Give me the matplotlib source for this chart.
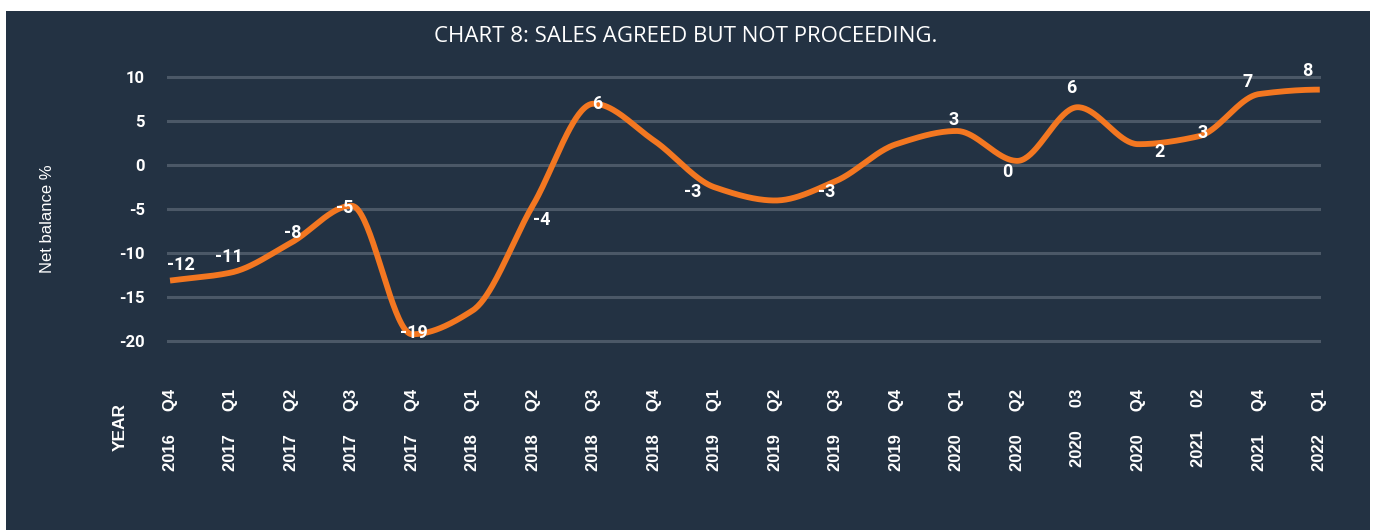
import numpy as np
import matplotlib
matplotlib.use("Agg")
import matplotlib.pyplot as plt
from matplotlib.patches import Rectangle

# ---------------- data ----------------
years = ["2016", "2017", "2017", "2017", "2017", "2018", "2018", "2018", "2018",
         "2019", "2019", "2019", "2019", "2020", "2020", "2020", "2020",
         "2021", "2021", "2022"]
quarters = ["Q4", "Q1", "Q2", "Q3", "Q4", "Q1", "Q2", "Q3", "Q4",
            "Q1", "Q2", "Q3", "Q4", "Q1", "Q2", "03", "Q4",
            "02", "Q4", "Q1"]
net_balance = [-13.1, -12.2, -8.8, -4.6, -19.2, -16.5, -4.5, 7.0, 2.8,
               -2.5, -4.0, -1.8, 2.4, 3.9, 0.5, 6.6, 2.4,
               3.3, 8.1, 8.6]
point_labels = ["-12", "-11", "-8", "-5", "-19", None, "-4", "6", None,
                "-3", None, "-3", None, "3", "0", "6", "2",
                "3", "7", "8"]
yticks = [10, 5, 0, -5, -10, -15, -20]

# ---------------- style ----------------
BG = "#233243"
GRID = "#4B5867"
ORANGE = "#F37721"
WHITE = "#FFFFFF"
W, H = 1373, 530
DPI = 100
px = 72.0 / DPI  # points per pixel

# label offsets (pixels: dx right, dy down)
label_offsets = [(11, -16), (-2, -16), (2, -10), (-7, 2), (2, -1), None, (9, 15),
                 (4, 0), None, (-22, 5), None, (-9, 11), None, (-3, -11),
                 (-10, 11), (-6, -19), (21, 8), (4, -3), (-12, -12), (-12, -19)]


def pchip(x, y, xs):
    x = np.asarray(x, float)
    y = np.asarray(y, float)
    h = np.diff(x)
    d = np.diff(y) / h
    n = len(x)
    m = np.zeros(n)
    for k in range(1, n - 1):
        if d[k - 1] * d[k] <= 0:
            m[k] = 0.0
        else:
            w1 = 2 * h[k] + h[k - 1]
            w2 = h[k] + 2 * h[k - 1]
            m[k] = (w1 + w2) / (w1 / d[k - 1] + w2 / d[k])
    m[0] = d[0]
    m[-1] = 0.0
    ys = np.empty_like(xs)
    for j, xv in enumerate(xs):
        k = min(max(np.searchsorted(x, xv) - 1, 0), n - 2)
        t = (xv - x[k]) / h[k]
        h00 = 2 * t**3 - 3 * t**2 + 1
        h10 = t**3 - 2 * t**2 + t
        h01 = -2 * t**3 + 3 * t**2
        h11 = t**3 - t**2
        ys[j] = h00 * y[k] + h10 * h[k] * m[k] + h01 * y[k + 1] + h11 * h[k] * m[k + 1]
    return ys


fig = plt.figure(figsize=(W / DPI, H / DPI), dpi=DPI, facecolor="white")
fig.patches.append(Rectangle((6 / W, 0), (1370 - 6) / W, 1 - 11 / H,
                             transform=fig.transFigure, facecolor=BG,
                             edgecolor="none", zorder=-5))

ymin, ymax = -21, 11
top_px, bot_px = 165.3 - 8.8 * ymax, 165.3 - 8.8 * ymin
ax = fig.add_axes([167 / W, 1 - bot_px / H, (1321 - 167) / W, (bot_px - top_px) / H])
ax.set_zorder(2)
ax.set_facecolor("none")
n = len(net_balance)
xi = np.arange(n)
ax.set_xlim(-0.05, 19.02)
ax.set_ylim(ymin, ymax)

for yv in yticks:
    ax.axhline(yv, color=GRID, lw=2.2, zorder=1)

xs = np.linspace(0, n - 1, 800)
ax.plot(xs, pchip(xi, net_balance, xs), color=ORANGE, lw=4.2,
        solid_capstyle="butt", zorder=3)

for i, lab in enumerate(point_labels):
    if lab is None:
        continue
    dx, dy = label_offsets[i]
    ax.annotate(lab, (xi[i], net_balance[i]), xytext=(dx * px, -dy * px),
                textcoords="offset points", ha="center", va="center",
                color=WHITE, fontsize=13, fontweight="bold", family="Roboto",
                zorder=4)

for s in ax.spines.values():
    s.set_visible(False)
ax.set_yticks(yticks)
ax.set_yticklabels([str(v) for v in yticks], family="Roboto", fontweight="bold",
                   fontsize=12, color=WHITE)
ax.tick_params(axis="y", length=0, pad=22 * px)
ax.set_xticks(xi)
ax.set_xticklabels([f"{y}     {q}" for y, q in zip(years, quarters)],
                   rotation=90, family="Liberation Sans", fontweight="bold",
                   fontsize=12, color=WHITE)
ax.tick_params(axis="x", length=0, pad=(389 - bot_px) * px)

fig.text(686 / W, 1 - 37 / H, "CHART 8: SALES AGREED BUT NOT PROCEEDING.",
         ha="center", va="center", color=WHITE, fontsize=16, family="Open Sans",
         fontweight="medium")
fig.text(48 / W, 1 - 219 / H, "Net balance %", rotation=90, ha="center",
         va="center", color=WHITE, fontsize=12, family="Liberation Sans")
fig.text(120 / W, 1 - 427 / H, "YEAR", rotation=90, ha="center", va="center",
         color=WHITE, fontsize=12.5, fontweight="bold", family="Liberation Sans")

fig.savefig("out.png", dpi=DPI, facecolor="white")
